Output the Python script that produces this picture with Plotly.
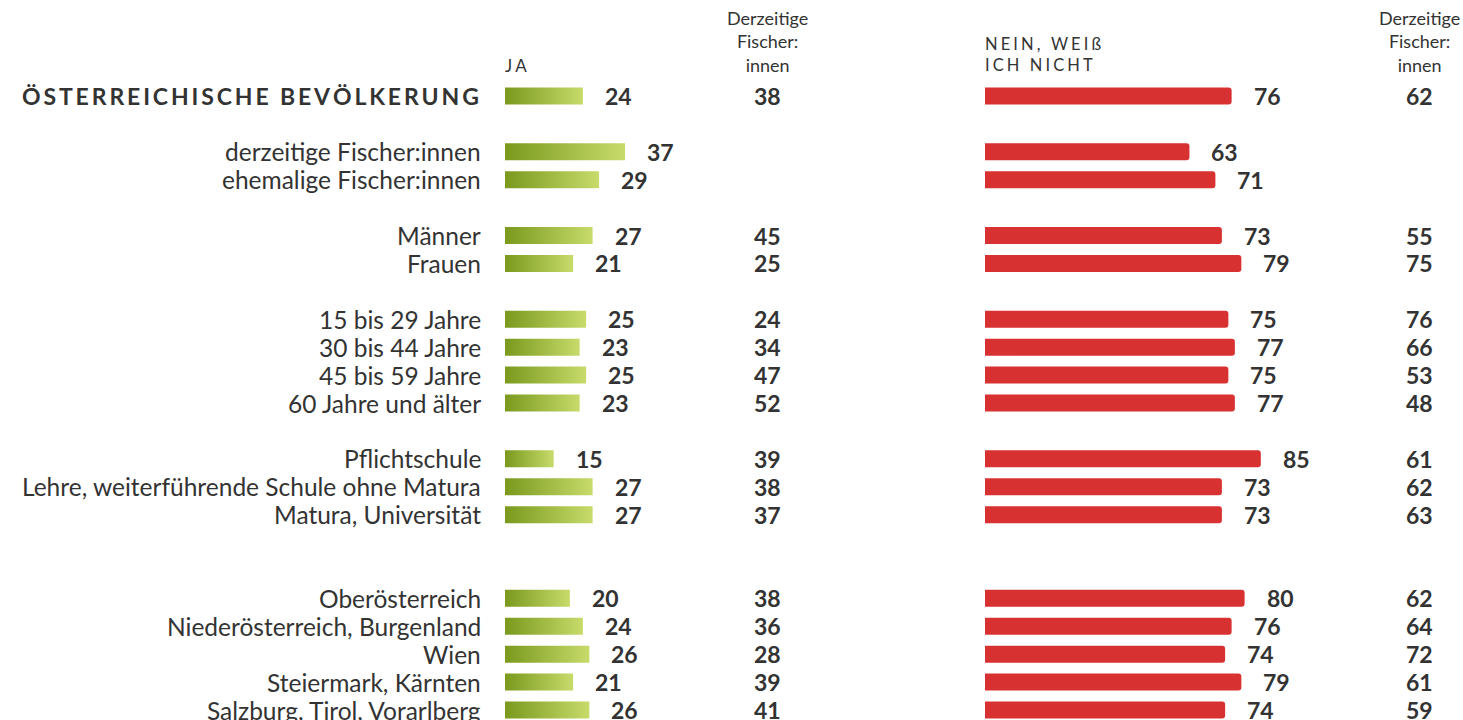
import plotly.graph_objects as go

labels = [
    "ÖSTERREICHISCHE BEVÖLKERUNG",
    "derzeitige Fischer:innen",
    "ehemalige Fischer:innen",
    "Männer",
    "Frauen",
    "15 bis 29 Jahre",
    "30 bis 44 Jahre",
    "45 bis 59 Jahre",
    "60 Jahre und älter",
    "Pflichtschule",
    "Lehre, weiterführende Schule ohne Matura",
    "Matura, Universität",
    "Oberösterreich",
    "Niederösterreich, Burgenland",
    "Wien",
    "Steiermark, Kärnten",
    "Salzburg, Tirol, Vorarlberg",
]
groups = ["total", "fischer", "fischer", "geschlecht", "geschlecht",
          "alter", "alter", "alter", "alter",
          "bildung", "bildung", "bildung",
          "region", "region", "region", "region", "region"]
ja = [24, 37, 29, 27, 21, 25, 23, 25, 23, 15, 27, 27, 20, 24, 26, 21, 26]
ja_fischer = [38, None, None, 45, 25, 24, 34, 47, 52, 39, 38, 37, 38, 36, 28, 39, 41]
nein = [76, 63, 71, 73, 79, 75, 77, 75, 77, 85, 73, 73, 80, 76, 74, 79, 74]
nein_fischer = [62, None, None, 55, 75, 76, 66, 53, 48, 61, 62, 63, 62, 64, 72, 61, 59]

header_ja = "JA"
header_nein = "NEIN, WEIß<br>ICH NICHT"
header_fischer = "Derzeitige<br>Fischer:<br>innen"

W, H = 1463, 720
FONT = "Lato"
TXT = "#333333"
GREEN_DARK = "#7a991d"
GREEN_LIGHT = "#c7db6b"
RED = "#d83131"


def spaced(s, sp="\u2009"):
    return sp.join(list(s))


# row positions: one empty row between groups, two before the regions
gap_rows = {"region": 2}
slots = []
pos = 0
prev = None
for g in groups:
    if prev is not None and g != prev:
        pos += 1 + gap_rows.get(g, 1)
    elif prev is not None:
        pos += 1
    slots.append(pos)
    prev = g

px_unit = 3.245
x1_left, x1_right = 505, 945
x2_left, x2_right = 985, W
row0 = 96
row_px = (710 - row0) / slots[-1]
y_top = -row0 / row_px
y_bot = (H - row0) / row_px
half = 8.5 / row_px

fig = go.Figure()

# green gradient bars
for v, s in zip(ja, slots):
    fig.add_trace(go.Scatter(
        x=[0, v, v, 0, 0],
        y=[s - half, s - half, s + half, s + half, s - half],
        mode="lines", fill="toself", line=dict(width=0),
        fillgradient=dict(type="horizontal",
                          colorscale=[[0, GREEN_DARK], [1, GREEN_LIGHT]]),
        hoverinfo="skip", showlegend=False, xaxis="x", yaxis="y",
    ))

# red bars
fig.add_trace(go.Bar(
    x=nein, y=slots, orientation="h", width=2 * half,
    marker=dict(color=RED, line=dict(width=0)),
    xaxis="x2", yaxis="y", hoverinfo="skip", showlegend=False,
))

ann = []
lab_x = 483 / W
for i, (lab, s) in enumerate(zip(labels, slots)):
    if i == 0:
        ann.append(dict(text="<b>" + spaced(lab) + "</b>", x=481 / W, xref="paper",
                        y=s, yref="y", xanchor="right", yanchor="middle",
                        showarrow=False, font=dict(family=FONT, size=23, color=TXT)))
    else:
        ann.append(dict(text=lab, x=lab_x, xref="paper", y=s, yref="y",
                        xanchor="right", yanchor="middle", showarrow=False,
                        font=dict(family=FONT, size=24.5, color=TXT)))

VAL = 23
for v, s in zip(ja, slots):
    ann.append(dict(text="<b>%d</b>" % v, x=v, xref="x", xshift=20, y=s, yref="y",
                    xanchor="left", yanchor="middle", showarrow=False,
                    font=dict(family=FONT, size=VAL, color=TXT)))
for v, s in zip(nein, slots):
    ann.append(dict(text="<b>%d</b>" % v, x=v, xref="x2", xshift=20, y=s, yref="y",
                    xanchor="left", yanchor="middle", showarrow=False,
                    font=dict(family=FONT, size=VAL, color=TXT)))
for v, s in zip(ja_fischer, slots):
    if v is not None:
        ann.append(dict(text="<b>%d</b>" % v, x=767 / W, xref="paper", y=s, yref="y",
                        xanchor="center", yanchor="middle", showarrow=False,
                        font=dict(family=FONT, size=VAL, color=TXT)))
for v, s in zip(nein_fischer, slots):
    if v is not None:
        ann.append(dict(text="<b>%d</b>" % v, x=1419 / W, xref="paper", y=s, yref="y",
                        xanchor="center", yanchor="middle", showarrow=False,
                        font=dict(family=FONT, size=VAL, color=TXT)))

# headers
hdr_bottom = 1 - 78 / H
ann.append(dict(text=spaced(header_ja, "\u2009\u200a"), x=503 / W, xref="paper",
                y=hdr_bottom, yref="paper", xanchor="left", yanchor="bottom",
                showarrow=False, align="left",
                font=dict(family=FONT, size=17, color=TXT)))
nein_lines = header_nein.split("<br>")
ann.append(dict(text="<br>".join(spaced(l, "\u2009\u200a") for l in nein_lines),
                x=983 / W, xref="paper", y=hdr_bottom + 1 / H, yref="paper",
                xanchor="left", yanchor="bottom", showarrow=False, align="left",
                font=dict(family=FONT, size=16.5, color=TXT)))
for cx in (767, 1419):
    ann.append(dict(text=header_fischer, x=cx / W, xref="paper", y=hdr_bottom,
                    yref="paper", xanchor="center", yanchor="bottom",
                    showarrow=False, align="center",
                    font=dict(family=FONT, size=18, color=TXT)))

fig.update_layout(
    width=W, height=H,
    margin=dict(l=0, r=0, t=0, b=0),
    paper_bgcolor="white", plot_bgcolor="white",
    barcornerradius=3,
    xaxis=dict(domain=[x1_left / W, x1_right / W],
               range=[0, (x1_right - x1_left) / px_unit], visible=False),
    xaxis2=dict(domain=[x2_left / W, x2_right / W],
                range=[0, (x2_right - x2_left) / px_unit], visible=False,
                anchor="y"),
    yaxis=dict(range=[y_bot, y_top], visible=False, domain=[0, 1]),
    annotations=ann,
    showlegend=False,
)

fig.write_html(
    "out.html",
    config={"displayModeBar": False},
    post_script="document.body.style.margin='0';document.body.style.overflow='hidden';",
)
